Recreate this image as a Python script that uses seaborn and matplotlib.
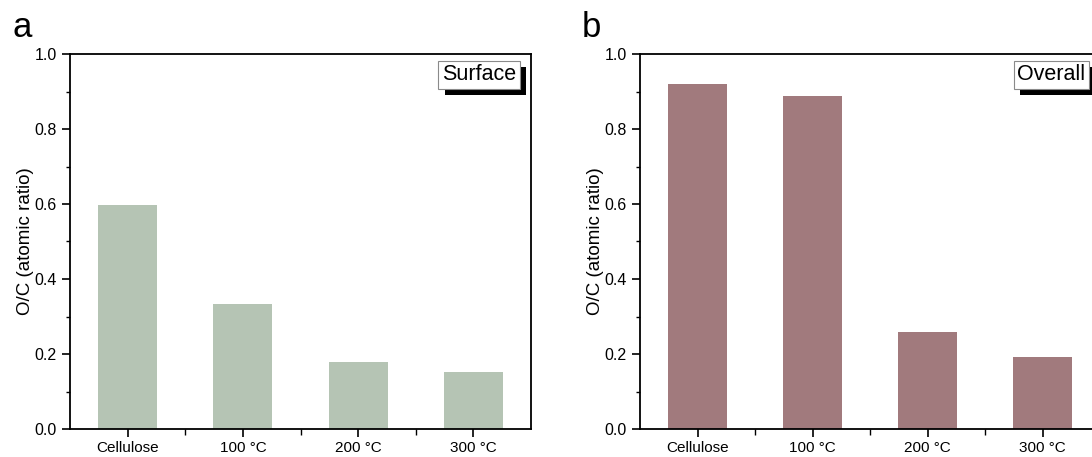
import matplotlib
matplotlib.use("Agg")
import matplotlib.pyplot as plt
import matplotlib.patheffects as pe
from matplotlib.ticker import MultipleLocator, FixedLocator, FormatStrFormatter
import seaborn as sns
import pandas as pd

categories = ["Cellulose", "100 °C", "200 °C", "300 °C"]
surface_oc = [0.597, 0.333, 0.179, 0.153]
overall_oc = [0.919, 0.889, 0.260, 0.191]
ylabel = "O/C (atomic ratio)"

sns.set_style("ticks", {"text.color": "black", "xtick.color": "black",
                        "ytick.color": "black", "axes.labelcolor": "black",
                        "axes.edgecolor": "black"})
plt.rcParams['font.family'] = ['Liberation Sans', 'DejaVu Sans']

fig = plt.figure(figsize=(10.92, 4.57), dpi=100)
W, H = 1092, 457
ax_a = fig.add_axes([70 / W, 1 - 429 / H, (531 - 70) / W, (429 - 54) / H])
ax_b = fig.add_axes([640 / W, 1 - 429 / H, (1100 - 640) / W, (429 - 54) / H])


def draw(ax, vals, color, label, box_x, box_ha):
    df = pd.DataFrame({"cat": categories, "val": vals})
    sns.barplot(data=df, x="cat", y="val", color=color, saturation=1,
                width=0.51, ax=ax, linewidth=0)
    ax.set_xlim(-0.5, 3.5)
    ax.set_ylim(0, 1.0)
    ax.yaxis.set_major_locator(MultipleLocator(0.2))
    ax.yaxis.set_minor_locator(MultipleLocator(0.1))
    ax.xaxis.set_minor_locator(FixedLocator([0.5, 1.5, 2.5]))
    ax.yaxis.set_major_formatter(FormatStrFormatter("%.1f"))
    ax.set_xlabel("")
    ax.set_ylabel(ylabel, fontsize=13.5, labelpad=0)
    ax.tick_params(axis="y", which="major", length=6, width=1.2, labelsize=11.5, direction="out")
    ax.tick_params(axis="y", which="minor", length=3, width=1.0, direction="out")
    ax.tick_params(axis="x", which="major", length=6, width=1.2, labelsize=11, direction="out", pad=3)
    ax.tick_params(axis="x", which="minor", length=4, width=1.0, direction="out")
    for s in ax.spines.values():
        s.set_visible(True)
        s.set_linewidth(1.3)
        s.set_color("black")
    t = ax.text(box_x, 0.972, label, transform=ax.transAxes, ha=box_ha, va="top",
                fontsize=15.5, color="black", zorder=6,
                bbox=dict(boxstyle="square,pad=0.17", fc="white", ec="#8a8a8a", lw=0.8))
    t.get_bbox_patch().set_path_effects([
        pe.SimplePatchShadow(offset=(4.5, -4.2), shadow_rgbFace="black", alpha=1.0),
        pe.Normal()])


draw(ax_a, surface_oc, "#b5c4b4", "Surface", 0.968, "right")
draw(ax_b, overall_oc, "#a17a7d", "Overall", 0.82, "left")

fig.text(13 / W, 1 - 37 / H, "a", fontsize=25, ha="left", va="baseline")
fig.text(582 / W, 1 - 37 / H, "b", fontsize=25, ha="left", va="baseline")

fig.savefig("out.png", dpi=100)
